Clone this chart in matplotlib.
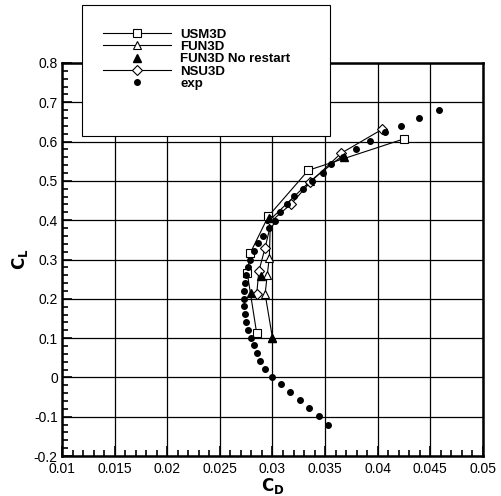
import matplotlib
matplotlib.use("Agg")
import matplotlib.pyplot as plt
from matplotlib.patches import Rectangle
from matplotlib.ticker import MultipleLocator

plt.rcParams['font.family'] = ['Liberation Sans', 'DejaVu Sans']

# data (CD, CL)
usm_cd = [0.0285, 0.0276, 0.0279, 0.0296, 0.0334, 0.0425]
usm_cl = [0.112, 0.266, 0.317, 0.410, 0.527, 0.607]

fun_cd = [0.0300, 0.0293, 0.0295, 0.0297, 0.0298, 0.0336, 0.0367]
fun_cl = [0.100, 0.212, 0.261, 0.305, 0.402, 0.500, 0.565]

fun_nr_cd = [0.0300, 0.0280, 0.0289, 0.0297, 0.0368]
fun_nr_cl = [0.100, 0.215, 0.259, 0.405, 0.561]

nsu_cd = [0.0285, 0.0287, 0.0293, 0.0299, 0.0318, 0.0336, 0.0365, 0.0404]
nsu_cl = [0.212, 0.270, 0.330, 0.398, 0.442, 0.497, 0.570, 0.631]

exp_cd = [0.0353, 0.0344, 0.0335, 0.0326, 0.0317, 0.0308, 0.0300, 0.0293,
          0.0288, 0.0285, 0.0282, 0.0280, 0.0277, 0.0275, 0.0274, 0.0273,
          0.0273, 0.0273, 0.0274, 0.0275, 0.0277, 0.0279, 0.0282, 0.0286,
          0.0291, 0.0297, 0.0302, 0.0307, 0.0314, 0.0320, 0.0329, 0.0338,
          0.0348, 0.0356, 0.0367, 0.0379, 0.0393, 0.0407, 0.0422, 0.0439,
          0.0458]
exp_cl = [-0.120, -0.099, -0.079, -0.058, -0.038, -0.018, 0.001, 0.021,
          0.041, 0.062, 0.082, 0.101, 0.121, 0.140, 0.161, 0.182,
          0.200, 0.220, 0.240, 0.260, 0.280, 0.300, 0.322, 0.342,
          0.360, 0.379, 0.398, 0.421, 0.442, 0.461, 0.480, 0.500,
          0.520, 0.543, 0.562, 0.582, 0.601, 0.625, 0.640, 0.660,
          0.680]

fig = plt.figure(figsize=(5.01, 4.96), dpi=100)
ax = fig.add_axes([62 / 501, 1 - 456 / 496, 421 / 501, 393 / 496])

ax.plot(usm_cd, usm_cl, linestyle='-', color='k', lw=0.8, marker='s', ms=5.5,
        mfc='white', mec='k', mew=0.8, label='USM3D', zorder=3)
ax.plot(fun_cd, fun_cl, linestyle='-', color='k', lw=0.8, marker='^', ms=6,
        mfc='white', mec='k', mew=0.8, label='FUN3D', zorder=3)
ax.plot(fun_nr_cd, fun_nr_cl, linestyle='none', color='k', marker='^', ms=6,
        mfc='k', mec='k', label='FUN3D No restart', zorder=4)
ax.plot(nsu_cd, nsu_cl, linestyle='-', color='k', lw=0.8, marker='D', ms=5,
        mfc='white', mec='k', mew=0.8, label='NSU3D', zorder=3)
ax.plot(exp_cd, exp_cl, linestyle='none', color='k', marker='o', ms=4,
        mfc='k', mec='k', label='exp', zorder=5)

ax.set_xlim(0.01, 0.05)
ax.set_ylim(-0.2, 0.8)
ax.xaxis.set_minor_locator(MultipleLocator(0.001))
ax.yaxis.set_minor_locator(MultipleLocator(0.02))
ax.set_xticks([0.01, 0.015, 0.02, 0.025, 0.03, 0.035, 0.04, 0.045, 0.05])
ax.set_xticklabels(['0.01', '0.015', '0.02', '0.025', '0.03', '0.035',
                    '0.04', '0.045', '0.05'])
ax.set_yticks([-0.2, -0.1, 0, 0.1, 0.2, 0.3, 0.4, 0.5, 0.6, 0.7, 0.8])
ax.set_yticklabels(['-0.2', '-0.1', '0', '0.1', '0.2', '0.3', '0.4', '0.5',
                    '0.6', '0.7', '0.8'])
ax.tick_params(which='both', direction='in', top=False, right=False,
               labelsize=10, width=1.2)
ax.tick_params(which='major', length=7)
ax.tick_params(axis='x', which='major', pad=4)
ax.tick_params(axis='y', which='major', pad=3)
ax.tick_params(which='minor', length=4)
ax.grid(True, which='major', color='k', lw=0.9)
for s in ax.spines.values():
    s.set_linewidth(1.8)

ax.set_xlabel(r'$\mathbf{C_D}$', fontsize=12, labelpad=0)
ax.set_ylabel(r'$\mathbf{C_L}$', fontsize=12, labelpad=3)

# legend box
box = Rectangle((82 / 501, 1 - 136 / 496), 248 / 501, 131 / 496,
                transform=fig.transFigure, facecolor='white', edgecolor='k',
                lw=0.8, zorder=10)
fig.patches.append(box)
leg = fig.legend(loc='upper left', bbox_to_anchor=(96 / 501, 1 - 22 / 496),
                 frameon=False, handlelength=5.2, handletextpad=0.7,
                 labelspacing=0.0, borderpad=0,
                 prop={'weight': 'bold', 'size': 9.5})
leg.set_zorder(11)

fig.savefig('out.png', dpi=100)
